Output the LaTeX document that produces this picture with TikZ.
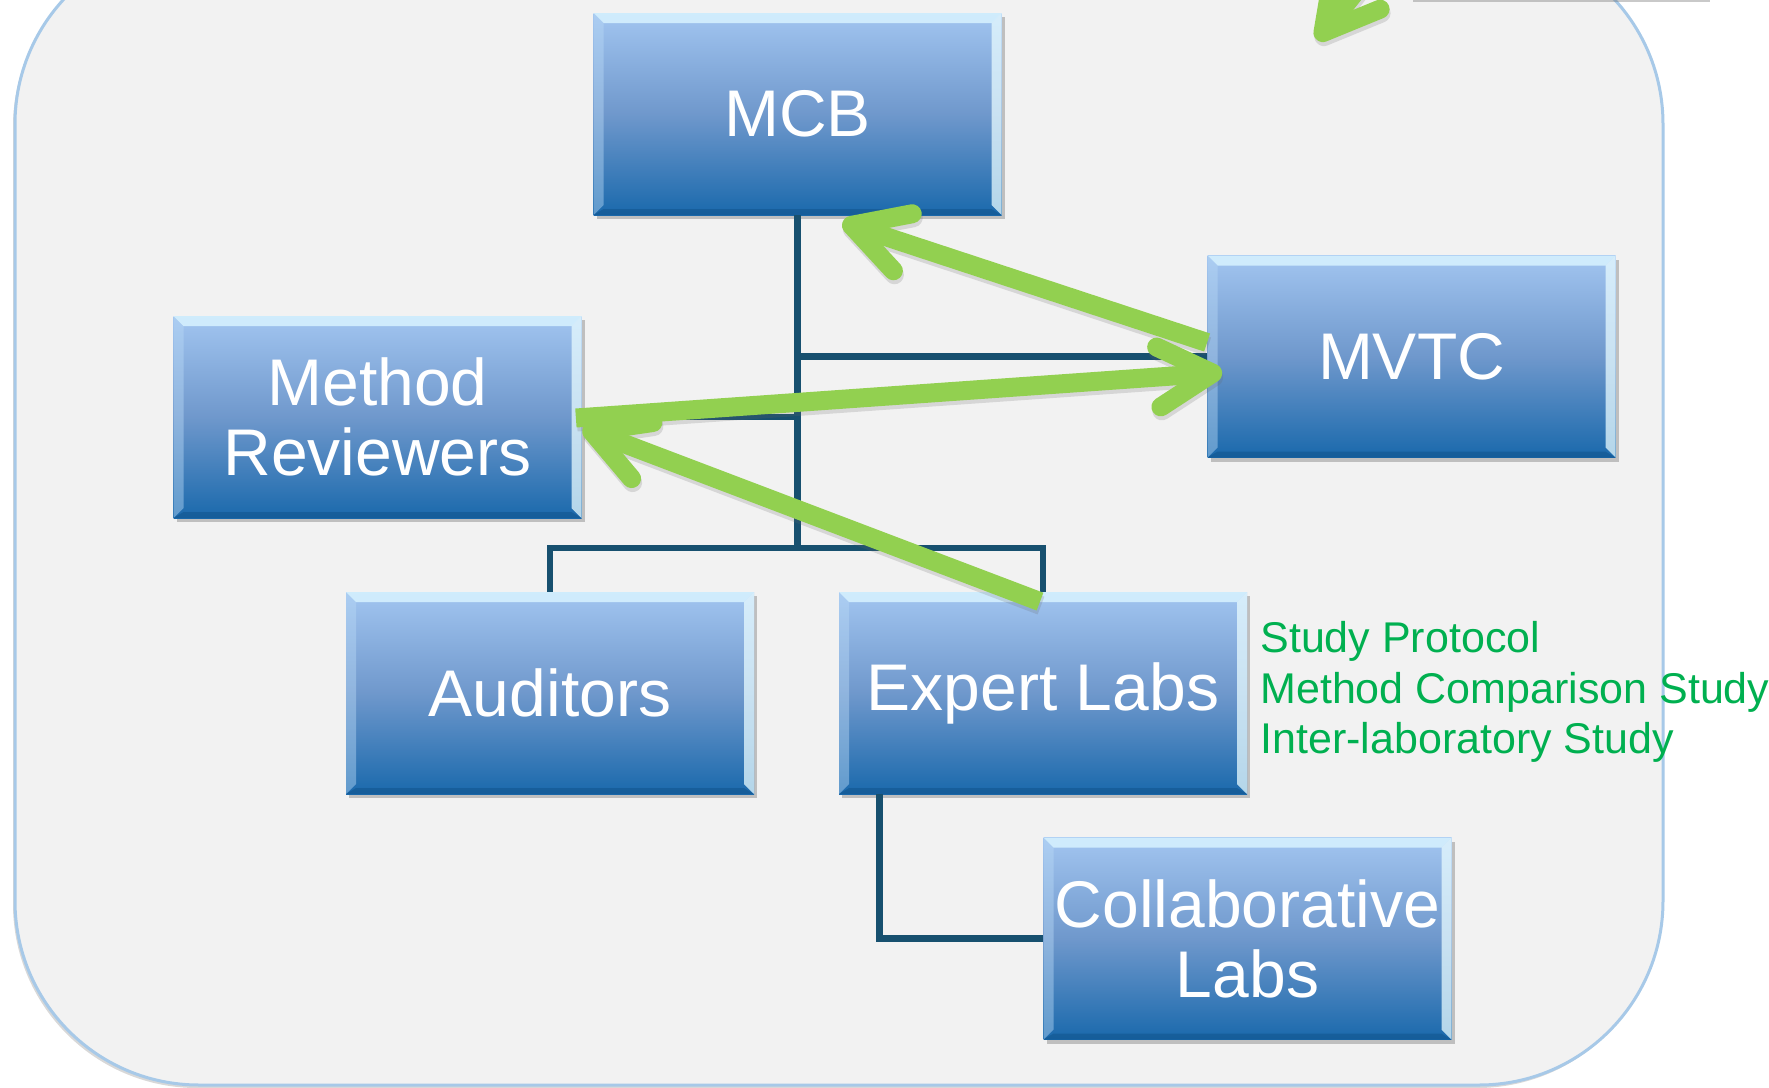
\documentclass[tikz,border=0pt]{standalone}
\usepackage{fontspec}
\setmainfont{Liberation Sans}
\usetikzlibrary{arrows.meta,shadows,calc}
\definecolor{framefill}{HTML}{F2F2F2}
\definecolor{frameline}{HTML}{A7C9E8}
\definecolor{boxtop}{HTML}{A2C5F0}
\definecolor{boxmid}{HTML}{6F98CC}
\definecolor{boxbot}{HTML}{1A69AC}
\definecolor{linkblue}{HTML}{17506F}
\definecolor{arrowgreen}{HTML}{92D050}
\definecolor{notegreen}{HTML}{00B050}
\definecolor{bevtop}{HTML}{D8F3FF}
\definecolor{bevright}{HTML}{E8FBFF}
\definecolor{bevleft}{HTML}{B8D8F5}
\definecolor{bevbot}{HTML}{0F4F85}
\tikzset{
  orgbox/.style={minimum width=204pt, minimum height=101pt, inner sep=0pt,
    top color=boxtop, bottom color=boxbot, middle color=boxmid,
    text=white, font=\fontsize{33pt}{35pt}\selectfont, align=center,
    drop shadow={shadow xshift=1.5pt, shadow yshift=-2pt, opacity=0.3, fill=black!70},
    path picture={
      \fill[bevtop, opacity=0.85] (path picture bounding box.north west) -- (path picture bounding box.north east)
        -- ([xshift=-5pt,yshift=-5pt]path picture bounding box.north east) -- ([xshift=5pt,yshift=-5pt]path picture bounding box.north west) -- cycle;
      \fill[bevright, opacity=0.75] (path picture bounding box.north east) -- (path picture bounding box.south east)
        -- ([xshift=-5pt,yshift=5pt]path picture bounding box.south east) -- ([xshift=-5pt,yshift=-5pt]path picture bounding box.north east) -- cycle;
      \fill[bevleft, opacity=0.45] (path picture bounding box.north west) -- (path picture bounding box.south west)
        -- ([xshift=5pt,yshift=5pt]path picture bounding box.south west) -- ([xshift=5pt,yshift=-5pt]path picture bounding box.north west) -- cycle;
      \fill[bevbot, opacity=0.45] (path picture bounding box.south west) -- (path picture bounding box.south east)
        -- ([xshift=-5pt,yshift=3pt]path picture bounding box.south east) -- ([xshift=5pt,yshift=3pt]path picture bounding box.south west) -- cycle;
    }},
  link/.style={draw=linkblue, line width=3.2pt},
  greenarrow/.style={draw=arrowgreen, line width=9.5pt, -{Straight Barb[length=27pt,width=30pt,round]}},
  gshadow/.style={draw=black!60, opacity=0.2, line width=9.5pt, -{Straight Barb[length=27pt,width=30pt,round]}},
  note/.style={text=notegreen, font=\fontsize{21.5pt}{25.5pt}\selectfont, anchor=base west, inner sep=0pt}
}
\begin{document}
\begin{tikzpicture}[x=0.5pt, y=-0.5pt]
\useasboundingbox (0,0) rectangle (1769,1088);
\fill[white] (0,0) rectangle (1769,1088);
% frame
\draw[draw=frameline, line width=1.5pt, fill=framefill, rounded corners=92pt,
  drop shadow={shadow xshift=-1pt, shadow yshift=-1.5pt, opacity=0.25, fill=black!60}]
  (15,-60) rectangle (1663,1085);
% cut-off white box at top right
\fill[white, drop shadow={shadow xshift=0pt, shadow yshift=-1.5pt, opacity=0.35, fill=black!60}]
  (1413,-60) rectangle (1710,-1);

% boxes
\node[orgbox] (mcb)  at (797.5,114)   {MCB};
\node[orgbox] (mvtc) at (1411.5,356.5) {MVTC};
\node[orgbox] (mr)   at (377.5,417)   {Method\\Reviewers};
\node[orgbox] (aud)  at (550,693)     {Auditors};
\node[orgbox] (el)   at (1043,693)    {Expert Labs};
\node[orgbox] (cl)   at (1247.5,938.5) {Collaborative\\Labs};

% org connectors
\coordinate (hub) at (797.5,548);
\draw[link] (mcb.south) -- (hub);
\draw[link] (aud.north) |- (hub) -| (el.north);
\draw[link] (mcb.south |- mvtc.west) -- (mvtc.west);
\draw[link] (mcb.south |- mr.east) -- (mr.east);
\draw[link] ($(el.south west)!0.1!(el.south east)$) |- (cl.west);

% green arrows
\coordinate (g1s) at ($(mvtc.west)+(0,-14)$);
\coordinate (g1e) at ($(mcb.south)+(45,7)$);
\coordinate (g2s) at ($(mr.east)+(-6,1)$);
\coordinate (g2e) at ($(mvtc.west)+(15,16)$);
\coordinate (g3s) at ($(el.north)+(-3,10)$);
\coordinate (g3e) at ($(mr.east)+(1,11)$);
\coordinate (g4s) at (1385,-45);
\coordinate (g4e) at (1317,40);
\begin{scope}[transform canvas={xshift=0.5pt, yshift=-2pt}]
\draw[gshadow] (g1s) -- (g1e);
\draw[gshadow] (g2s) -- (g2e);
\draw[gshadow] (g3s) -- (g3e);
\draw[gshadow] (g4s) -- (g4e);
\end{scope}
\draw[greenarrow] (g1s) -- (g1e);
\draw[greenarrow] (g2s) -- (g2e);
\draw[greenarrow] (g3s) -- (g3e);
\draw[greenarrow] (g4s) -- (g4e);

% notes
\node[note] (n1) at (1260,652) {Study Protocol};
\node[note] (n2) at (1260,703) {Method Comparison Study};
\node[note] (n3) at (1260,753) {Inter-laboratory Study};
\end{tikzpicture}
\end{document}
